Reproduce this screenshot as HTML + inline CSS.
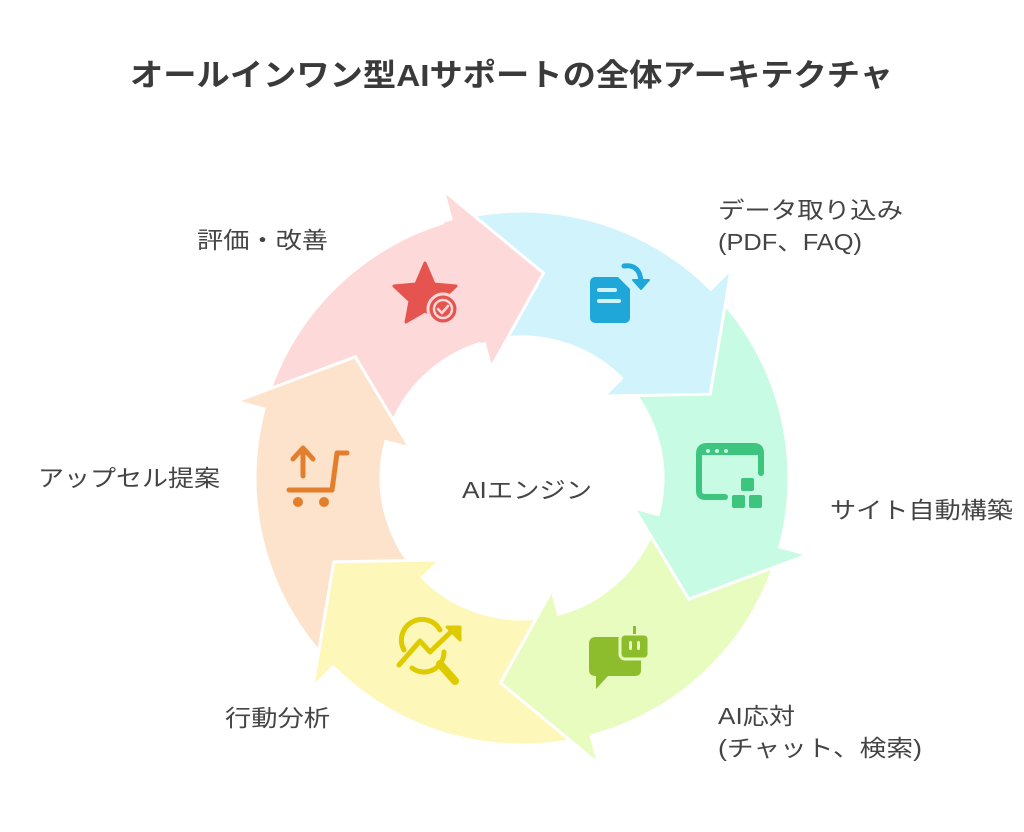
<!DOCTYPE html>
<html><head><meta charset="utf-8"><style>
html,body{margin:0;padding:0;background:#fff;width:1024px;height:832px;overflow:hidden}
text{font-family:"Liberation Sans","Noto Sans CJK JP",sans-serif;fill:#444}
</style></head><body>
<svg id="s" width="1024" height="832" viewBox="0 0 1024 832" xmlns="http://www.w3.org/2000/svg">
<g id="ring"></g>
<g id="icons">
 <path d="M425,263 L434,284 L456,286 L440,301 L444,322 L425,311 L406,322 L410,301 L394,286 L416,284 Z" fill="#E5544F" stroke="#E5544F" stroke-width="3" stroke-linejoin="round"/>
 <circle cx="443" cy="309" r="15" fill="#E5544F" stroke="#FDD9D9" stroke-width="3"/>
 <circle cx="443" cy="309" r="9" fill="none" stroke="#FDD9D9" stroke-width="2.5"/>
 <path d="M438,309 l4,4 l6,-7" fill="none" stroke="#FDD9D9" stroke-width="2.5" stroke-linecap="round"/>
 <rect x="590" y="277" width="40" height="46" rx="5" fill="#1EA7D8"/>
 <path d="M618,277 L630,277 L630,289 Z" fill="#D1F3FC"/>
 <rect x="597" y="288" width="20" height="4" rx="2" fill="#D1F3FC"/>
 <rect x="597" y="299" width="24" height="4" rx="2" fill="#D1F3FC"/>
 <path d="M624,266 q16,-2 17,16" fill="none" stroke="#1EA7D8" stroke-width="5" stroke-linecap="round"/>
 <path d="M633,280 L649,280 L641,289 Z" fill="#1EA7D8" stroke="#1EA7D8" stroke-width="2" stroke-linejoin="round"/>
 <path d="M725,497 L705,497 Q699,497 699,491 L699,454 Q699,446 707,446 L754,446 Q761,446 761,453 L761,473" fill="none" stroke="#3DC47E" stroke-width="6" stroke-linecap="round"/>
 <rect x="699" y="446" width="62" height="9" fill="#3DC47E"/>
 <circle cx="708" cy="451" r="2" fill="#C8FBE3"/><circle cx="717" cy="451" r="2" fill="#C8FBE3"/><circle cx="726" cy="451" r="2" fill="#C8FBE3"/>
 <rect x="741" y="478" width="13" height="13" rx="2" fill="#3DC47E"/>
 <rect x="732" y="495" width="13" height="13" rx="2" fill="#3DC47E"/>
 <rect x="749" y="495" width="13" height="13" rx="2" fill="#3DC47E"/>
 <path d="M596,637 L622,637 L622,660 L641,660 L641,670 Q641,676 635,676 L608,676 L596,689 L596,676 Q589,676 589,670 L589,644 Q589,637 596,637 Z" fill="#8DBD2D"/>
 <rect x="620" y="634" width="29" height="25" rx="5" fill="#8DBD2D" stroke="#E8FCC0" stroke-width="3"/>
 <rect x="633" y="626" width="3" height="8" fill="#8DBD2D"/>
 <rect x="629" y="641" width="3" height="9" rx="1.5" fill="#E8FCC0"/><rect x="637" y="641" width="3" height="9" rx="1.5" fill="#E8FCC0"/>
 <path d="M404,650 A20,20 0 0 1 440,630" fill="none" stroke="#DDCB00" stroke-width="5" stroke-linecap="round"/>
 <path d="M412,668 A20,20 0 0 0 444,652" fill="none" stroke="#DDCB00" stroke-width="5" stroke-linecap="round"/>
 <path d="M399,665 L420,641 L430,652 L455,628" fill="none" stroke="#DDCB00" stroke-width="5" stroke-linecap="round" stroke-linejoin="round"/>
 <path d="M447,627 L460,627 L460,640 Z" fill="#DDCB00" stroke="#DDCB00" stroke-width="3" stroke-linejoin="round"/>
 <path d="M440,664 L455,681" stroke="#DDCB00" stroke-width="8" stroke-linecap="round"/>
 <path d="M303,476 L303,448 M293,459 L303,448 L313,459" fill="none" stroke="#E37F2C" stroke-width="5" stroke-linecap="round" stroke-linejoin="round"/>
 <path d="M289,490 L332,490 L337,453 L347,453" fill="none" stroke="#E37F2C" stroke-width="5" stroke-linecap="round" stroke-linejoin="round"/>
 <circle cx="298" cy="502" r="5" fill="#E37F2C"/><circle cx="324" cy="502" r="5" fill="#E37F2C"/>
</g>
<text x="130" y="86" font-size="31" font-weight="bold" textLength="763" lengthAdjust="spacingAndGlyphs" style="fill:#3a3a3a">オールインワン型AIサポートの全体アーキテクチャ</text>
<g font-size="23">
<text x="718" y="218" textLength="185" lengthAdjust="spacingAndGlyphs">データ取り込み</text>
<text x="718" y="250" textLength="144" lengthAdjust="spacingAndGlyphs">(PDF、FAQ)</text>
<text x="830" y="518" textLength="183" lengthAdjust="spacingAndGlyphs">サイト自動構築</text>
<text x="718" y="724" textLength="77" lengthAdjust="spacingAndGlyphs">AI応対</text>
<text x="718" y="756" textLength="204" lengthAdjust="spacingAndGlyphs">(チャット、検索)</text>
<text x="225" y="726" textLength="105" lengthAdjust="spacingAndGlyphs">行動分析</text>
<text x="38" y="486" textLength="182" lengthAdjust="spacingAndGlyphs">アップセル提案</text>
<text x="197" y="248" textLength="131" lengthAdjust="spacingAndGlyphs">評価・改善</text>
<text x="462" y="498" textLength="130" lengthAdjust="spacingAndGlyphs">AIエンジン</text>
</g>
</svg>
<script>
(function(){
var cx=522,cy=478,ri=141,ro=267,hi=116,ho=296,tr=206;
function P(a,r){var t=a*Math.PI/180;return [(cx+r*Math.sin(t)).toFixed(1),(cy-r*Math.cos(t)).toFixed(1)];}
function j(p){return p[0]+","+p[1];}
var segs=[
 {c:"#D1F3FC",b:45},{c:"#C8FBE3",b:105},{c:"#E8FCC0",b:165},
 {c:"#FEF7BA",b:225},{c:"#FDE2CC",b:285},{c:"#FDD9D9",b:345}];
function poly(s){
 var a0=s.b-60,a1=s.b,tip=a1+21;
 return "M"+j(P(a0,ro))+" A"+ro+","+ro+" 0 0 1 "+j(P(a1,ro))+
 " L"+j(P(a1,ho))+" L"+j(P(tip,tr))+" L"+j(P(a1,hi))+" L"+j(P(a1,ri))+
 " A"+ri+","+ri+" 0 0 0 "+j(P(a0,ri))+" Z";
}
var g=document.getElementById("ring"),h="";
[5,4,3,2,1,0].forEach(function(i){var s=segs[i];
 h+='<path d="'+poly(s)+'" fill="'+s.c+'" stroke="#fff" stroke-width="3" stroke-linejoin="miter"/>';});
var s=segs[5],a1=s.b,tip=a1+21,a1b=a1-2;
h+='<path d="M'+j(P(a1b,ro))+' L'+j(P(a1,ro))+' L'+j(P(a1,ho))+' L'+j(P(tip,tr))+' L'+j(P(a1,hi))+' L'+j(P(a1,ri))+' L'+j(P(a1b,ri))+' Z" fill="'+s.c+'"/>';
h+='<polyline points="'+j(P(a1,ho))+' '+j(P(tip,tr))+' '+j(P(a1,hi))+'" fill="none" stroke="#fff" stroke-width="3"/>';
g.innerHTML=h;
})();
</script>
</body></html>
